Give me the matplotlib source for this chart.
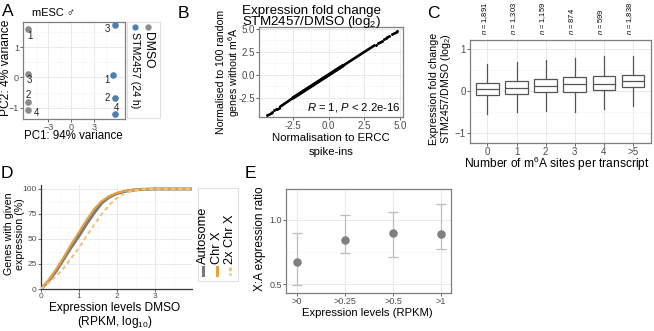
import matplotlib
matplotlib.use("Agg")
import matplotlib.pyplot as plt

plt.rcParams['font.family'] = ['Liberation Sans', 'DejaVu Sans']
plt.rcParams['mathtext.fontset'] = 'custom'
plt.rcParams['mathtext.rm'] = 'Liberation Sans'
plt.rcParams['mathtext.it'] = 'Liberation Sans:italic'
plt.rcParams['mathtext.bf'] = 'Liberation Sans:bold'

# ---------------- data ----------------
# A: PCA of replicates
pca_groups = ['DMSO', 'STM2457 (24 h)']
pca_reps = ['1', '2', '3', '4']
pca_dmso_x = [-5.6, -5.6, -5.6, -5.6]
pca_dmso_y = [1.6, -0.8, 0.13, -1.07]
pca_stm_x = [5.5, 5.75, 5.75, 5.75]
pca_stm_y = [0.07, -0.67, 1.73, -1.2]

# B: fold change, ERCC vs random-gene normalisation
b_core_x = [-3.4, -2.5, -1.0, 0.0, 1.0, 2.5, 3.2]
b_core_y = [-3.45, -2.5, -1.0, 0.0, 1.0, 2.5, 3.2]
b_tail_x = [-4.3, -4.2, -4.05, -3.95, -3.8, -3.7, -3.6, -3.5,
            3.3, 3.45, 3.6, 3.7, 3.85, 4.0, 4.1, 4.25, 4.4, 4.55, 4.7, 4.8]
b_tail_y = [-4.35, -4.25, -4.1, -4.0, -3.85, -3.75, -3.65, -3.55,
            3.3, 3.45, 3.6, 3.7, 3.85, 4.0, 4.1, 4.25, 4.4, 4.55, 4.65, 4.75]

# C: fold change by number of m6A sites
c_labels = ['0', '1', '2', '3', '4', '>5']
c_n = ['1,891', '1,303', '1,159', '874', '599', '1,838']
c_whislo = [-0.55, -0.49, -0.47, -0.50, -0.43, -0.35]
c_q1 = [-0.09, -0.06, -0.03, -0.01, 0.02, 0.09]
c_med = [0.04, 0.08, 0.11, 0.16, 0.17, 0.24]
c_q3 = [0.20, 0.25, 0.28, 0.33, 0.35, 0.38]
c_whishi = [0.65, 0.70, 0.75, 0.80, 0.84, 0.84]

# D: cumulative expression distributions
d_x = [0, 0.2, 0.4, 0.6, 0.8, 1.0, 1.2, 1.4, 1.6, 1.8, 2.0, 2.2, 2.4, 2.6, 2.8, 3.0, 3.5, 3.98]
d_auto = [0, 8, 18, 30, 42, 53, 65, 76, 86, 92, 95.5, 97.5, 98.8, 99.5, 99.8, 100, 100, 100]
d_chrx = [0, 9, 20, 32, 45, 57, 69, 80, 88, 93, 96, 98, 99, 99.6, 99.9, 100, 100, 100]
d_2x = [0, 6, 13, 21, 31, 41, 53, 64, 75, 84, 91, 95.5, 98, 99.3, 99.8, 100, 100, 100]
d_names = ['Autosome', 'Chr X', '2x Chr X']

# E: X:A ratio
e_labels = ['>0', '>0.25', '>0.5', '>1']
e_ratio = [0.67, 0.84, 0.90, 0.89]
e_lo = [0.49, 0.74, 0.71, 0.77]
e_hi = [0.90, 1.04, 1.06, 1.12]

# ---------------- styling ----------------
W, H = 654, 331
fig = plt.figure(figsize=(W / 100, H / 100), dpi=100)
renderer = fig.canvas.get_renderer()

GRID = '#e6e6e6'
GRID_MINOR = '#f3f3f3'
TICK = '#4d4d4d'
GREY_PT = '#8a8a8a'
BLUE_PT = '#4b7fb0'
ORANGE = '#e8a23c'
ORANGE_LIGHT = '#f0c27e'


def add_ax(x0, y0, x1, y1):
    return fig.add_axes([x0 / W, 1 - y1 / H, (x1 - x0) / W, (y1 - y0) / H])


def fit(t, target):
    # scale font so the text spans `target` pixels along its direction
    bb = t.get_window_extent(renderer)
    size = bb.height if t.get_rotation() in (90, 270) else bb.width
    t.set_fontsize(t.get_fontsize() * target / size)
    return t


def ftext(x, y, s, target=None, **kw):
    kw.setdefault('ha', 'center')
    kw.setdefault('va', 'center')
    kw.setdefault('fontsize', 8)
    t = fig.text(x / W, 1 - y / H, s, **kw)
    if target:
        fit(t, target)
    return t


def theme_bw(ax, tsize):
    ax.set_facecolor('white')
    for sp in ax.spines.values():
        sp.set_color('#7f7f7f')
        sp.set_linewidth(0.9)
    ax.tick_params(axis='both', which='major', length=2, width=0.6,
                   color=TICK, labelcolor=TICK, labelsize=tsize, pad=1)
    ax.tick_params(axis='both', which='minor', length=0)
    ax.grid(True, which='major', color=GRID, lw=0.6)
    ax.grid(True, which='minor', color=GRID_MINOR, lw=0.4)
    ax.set_axisbelow(True)


# ---------------- A ----------------
axA = add_ax(23, 22, 125, 119)
theme_bw(axA, 6.5)
axA.scatter(pca_dmso_x, pca_dmso_y, s=14, color=GREY_PT, zorder=3)
axA.scatter(pca_stm_x, pca_stm_y, s=14, color=BLUE_PT, zorder=3)
dmso_off = [(1, -5), (0, 5), (1, -5), (6, -2)]
stm_off = [(-5, -3), (-6, 0), (-6, -3), (1, 4)]
for i, r in enumerate(pca_reps):
    axA.annotate(r, (pca_dmso_x[i], pca_dmso_y[i]), xytext=dmso_off[i],
                 textcoords='offset points', fontsize=7, ha='center', va='center', color='#222222')
    axA.annotate(r, (pca_stm_x[i], pca_stm_y[i]), xytext=stm_off[i],
                 textcoords='offset points', fontsize=7, ha='center', va='center', color='#222222')
axA.set_xlim(-6.3, 7.0)
axA.set_ylim(-1.37, 1.83)
axA.set_xticks([-3, 0, 3])
axA.set_yticks([-1, 0, 1])
axA.set_xticks([-4.5, -1.5, 1.5, 4.5], minor=True)
axA.set_yticks([-0.5, 0.5, 1.5], minor=True)
ftext(2, 12, 'A', fontsize=12.5, ha='left')
ftext(32, 13, 'mESC \u2642', target=43, ha='left')
ftext(73, 136, 'PC1: 94% variance', target=99)
ftext(6, 68, 'PC2: 4% variance', target=97, rotation=90)

# legend A (rotated)
legA = add_ax(127, 22, 160, 118)
legA.set_xlim(127, 160)
legA.set_ylim(118, 22)
legA.set_xticks([])
legA.set_yticks([])
for sp in legA.spines.values():
    sp.set_color('#e0e0e0')
    sp.set_linewidth(0.8)
leg_targets = [76, 36]
for col, name, c, tg in zip([135, 148], pca_groups[::-1], [BLUE_PT, GREY_PT], leg_targets):
    legA.scatter([col], [27], s=12, color=c)
    fit(legA.text(col + 0.5, 32, name, rotation=270, ha='center', va='top', fontsize=8), tg)

# ---------------- B ----------------
axB = add_ax(259, 27, 403, 117)
theme_bw(axB, 7)
axB.plot(b_core_x, b_core_y, color='black', lw=1.9, solid_capstyle='round', zorder=3)
axB.plot(b_core_x[1:-2], b_core_y[1:-2], color='black', lw=2.5, solid_capstyle='round', zorder=3)
axB.scatter(b_tail_x, b_tail_y, s=1.2, color='black', zorder=3)
axB.set_xlim(-4.88, 5.2)
axB.set_ylim(-4.57, 5.2)
axB.set_xticks([-2.5, 0, 2.5, 5.0])
axB.set_yticks([-2.5, 0, 2.5, 5.0])
axB.set_xticklabels(['-2.5', '0.0', '2.5', '5.0'])
axB.set_yticklabels(['-2.5', '0.0', '2.5', '5.0'])
axB.set_xticks([-3.75, -1.25, 1.25, 3.75], minor=True)
axB.set_yticks([-3.75, -1.25, 1.25, 3.75], minor=True)
fit(axB.text(0.985, 0.03, r'$\it{R}$ = 1, $\it{P}$ < 2.2e-16', transform=axB.transAxes,
             ha='right', va='bottom', fontsize=7.5), 93)
ftext(178, 13, 'B', fontsize=12.5, ha='left')
tB = ftext(242, 11, 'Expression fold change', target=140, ha='left')
ftext(242, 22, 'STM2457/DMSO (log$_2$)', fontsize=tB.get_fontsize(), ha='left')
tB2 = ftext(221, 72, 'Normalised to 100 random', target=124, rotation=90)
ftext(234, 72, 'genes without m$^6$A', fontsize=tB2.get_fontsize(), rotation=90)
tB3 = ftext(331, 138, 'Normalisation to ERCC', target=118)
ftext(331, 152, 'spike-ins', fontsize=tB3.get_fontsize())

# ---------------- C ----------------
axC = add_ax(470, 40, 651, 143)
theme_bw(axC, 7)
stats = []
for i in range(len(c_labels)):
    stats.append(dict(med=c_med[i], q1=c_q1[i], q3=c_q3[i],
                      whislo=c_whislo[i], whishi=c_whishi[i], fliers=[]))
pos = list(range(len(c_labels)))
axC.bxp(stats, positions=pos, widths=0.78, showfliers=False, patch_artist=True,
        boxprops=dict(facecolor='white', edgecolor='#555555', lw=0.9),
        medianprops=dict(color='#555555', lw=0.9),
        whiskerprops=dict(color='#555555', lw=0.9),
        capprops=dict(lw=0))
axC.set_xticks(pos)
axC.set_xticklabels(c_labels)
axC.set_yticks([-1, 0, 1])
axC.set_yticks([-0.5, 0.5], minor=True)
axC.set_xlim(-0.6, 5.62)
axC.set_ylim(-1.24, 1.22)
n_y = (143 - 35) / (143 - 40)
n_size = None
for i, n in enumerate(c_n):
    t = axC.text(i - 0.1, n_y, r'$\it{n}$ = ' + n, transform=axC.get_xaxis_transform(),
                 rotation=90, ha='center', va='bottom', fontsize=6)
    if n_size is None:
        fit(t, 33)
        n_size = t.get_fontsize()
    else:
        t.set_fontsize(n_size)
ftext(427, 13, 'C', fontsize=12.5, ha='left')
tC = ftext(434, 89, 'Expression fold change', target=112, rotation=90)
ftext(446, 89, 'STM2457/DMSO (log$_2$)', fontsize=tC.get_fontsize(), rotation=90)
ftext(557, 164, 'Number of m$^6$A sites per transcript', target=187)

# ---------------- D ----------------
axD = add_ax(41, 185, 192, 289)
theme_bw(axD, 6)
axD.spines['top'].set_visible(False)
axD.spines['right'].set_visible(False)
axD.spines['left'].set_color('#333333')
axD.spines['bottom'].set_color('#333333')
axD.plot(d_x, d_auto, color='#7a7a7a', lw=2.2, zorder=3)
axD.plot(d_x, d_chrx, color=ORANGE, lw=1.5, zorder=4)
axD.plot(d_x, d_2x, color=ORANGE_LIGHT, lw=1.5, ls=(0, (2, 1.5)), zorder=4)
axD.set_xlim(0, 3.98)
axD.set_ylim(0, 104)
axD.set_xticks([0, 1, 2, 3])
axD.set_yticks([0, 25, 50, 75, 100])
axD.set_xticks([0.5, 1.5, 2.5, 3.5], minor=True)
axD.set_yticks([12.5, 37.5, 62.5, 87.5], minor=True)
ftext(1, 174, 'D', fontsize=12.5, ha='left')
tD = ftext(9, 234, 'Genes with given', target=82, rotation=90)
ftext(20, 234, 'expression (%)', fontsize=tD.get_fontsize(), rotation=90)
tD2 = ftext(115, 308, 'Expression levels DMSO', target=132)
ftext(115, 322, '(RPKM, log$_{10}$)', fontsize=tD2.get_fontsize())

# legend D (rotated)
legD = add_ax(198, 188, 238, 281)
legD.set_xlim(198, 238)
legD.set_ylim(281, 188)
legD.set_xticks([])
legD.set_yticks([])
for sp in legD.spines.values():
    sp.set_color('#e0e0e0')
    sp.set_linewidth(0.8)
key_styles = [dict(color='#7a7a7a', lw=2.2), dict(color=ORANGE, lw=2.2),
              dict(color=ORANGE_LIGHT, lw=2.2, ls=(0, (1.2, 0.8)))]
legD_size = None
for col, name, st in zip([203, 216.5, 230], d_names, key_styles):
    legD.plot([col, col], [267, 275], **st)
    t = legD.text(col, 264, name, rotation=90, ha='center', va='bottom', fontsize=8)
    if legD_size is None:
        fit(t, 58)
        legD_size = t.get_fontsize()
    else:
        t.set_fontsize(legD_size)

# ---------------- E ----------------
axE = add_ax(286, 189, 451, 293)
theme_bw(axE, 6.5)
ex = list(range(len(e_labels)))
yerr = [[r - l for r, l in zip(e_ratio, e_lo)], [h - r for r, h in zip(e_ratio, e_hi)]]
axE.errorbar(ex, e_ratio, yerr=yerr, fmt='none', ecolor='#bdbdbd', elinewidth=0.9,
             capsize=3.5, capthick=0.9, zorder=3)
axE.scatter(ex, e_ratio, s=26, color='#7f7f7f', zorder=4)
axE.set_xticks(ex)
axE.set_xticklabels(e_labels)
axE.set_yticks([0.5, 1.0])
axE.set_yticklabels(['0.5', '1.0'])
axE.set_yticks([0.75], minor=True)
axE.set_xlim(-0.23, 3.21)
axE.set_ylim(0.43, 1.24)
ftext(245, 174, 'E', fontsize=12.5, ha='left')
ftext(260, 239, 'X:A expression ratio', target=105, rotation=90)
ftext(367, 313, 'Expression levels (RPKM)', target=132)

fig.savefig('out.png', dpi=100)
